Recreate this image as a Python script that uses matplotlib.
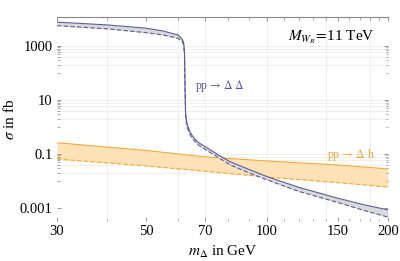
import matplotlib
matplotlib.use("Agg")
import matplotlib.pyplot as plt
import numpy as np

plt.rcParams['font.family'] = ['Liberation Serif', 'DejaVu Serif']
plt.rcParams['mathtext.fontset'] = 'stix'

# pp -> Delta Delta band (fb)
m_dd = [30, 40, 50, 55, 60, 61.5, 62.0, 62.3, 62.5, 62.7, 63.2, 64.3, 65.5, 67.3, 70, 75, 80.8, 90, 100, 120, 150, 175, 200]
dd_up = [7600, 6000, 4550, 3600, 2560, 1770, 1300, 600, 30, 3.0, 1.3, 0.65, 0.42, 0.27, 0.19, 0.10, 0.052, 0.027, 0.0145, 0.0058, 0.0023, 0.0013, 0.00085]
dd_lo = [5640, 4300, 3100, 2560, 1920, 1440, 1050, 450, 20, 2.2, 1.0, 0.52, 0.34, 0.22, 0.15, 0.080, 0.040, 0.020, 0.011, 0.0041, 0.0016, 0.0008, 0.00046]

# pp -> Delta h band (fb)
m_dh = [30, 50, 70, 100, 150, 200]
dh_up = [0.26, 0.135, 0.078, 0.055, 0.039, 0.028]
dh_lo = [0.065, 0.036, 0.023, 0.014, 0.0087, 0.006]

xticks = [30, 50, 70, 100, 150, 200]
xtick_labels = ["30", "50", "70", "100", "150", "200"]
yticks = [1e3, 1e1, 1e-1, 1e-3]
ytick_labels = ["1000", "10", "0.1", "0.001"]

fig = plt.figure(figsize=(4.0, 2.61), dpi=100)
ax = fig.add_axes([0.1425, 0.1533, 0.8275, 0.7816])
ax.set_xscale('log')
ax.set_yscale('log')
ax.set_xlim(30, 200)
ax.set_ylim(3.3e-4, 1.18e4)

dd_col = '#5b5b99'
or_col = '#f5a733'

# grid
minor_y = []
for k in [3, 1, -1]:
    for mm in range(1, 10):
        minor_y.append(mm * 10.0 ** (k - 1))
for v in [200, 400, 600, 800, 1000, 2, 4, 6, 8, 10, 0.02, 0.04, 0.06, 0.08, 0.1]:
    ax.axhline(v, color='#ededed', lw=0.6, zorder=0)
for v in [40, 60, 70, 100, 140, 180]:
    ax.axvline(v, color='#ededed', lw=0.6, zorder=0)

ax.fill_between(m_dh, dh_lo, dh_up, color='#fde2b8', lw=0, zorder=1)
ax.plot(m_dh, dh_up, color=or_col, lw=0.8, zorder=2)
ax.plot(m_dh, dh_lo, color=or_col, lw=0.8, ls=(0, (4, 2)), zorder=2)

ax.fill_between(m_dd, dd_lo, dd_up, color='#d9d9d9', lw=0, zorder=3)
ax.plot(m_dd, dd_up, color=dd_col, lw=0.8, zorder=4)
ax.plot(m_dd, dd_lo, color=dd_col, lw=0.8, ls=(0, (4, 2)), zorder=4)

ax.set_xticks(xticks)
ax.set_xticklabels(xtick_labels)
ax.set_xticks([40, 60, 80, 90, 110, 120, 130, 140, 160, 170, 180, 190], minor=True)
ax.xaxis.set_minor_formatter(matplotlib.ticker.NullFormatter())
ax.set_yticks(yticks)
ax.set_yticklabels(ytick_labels)
ax.set_yticks([v for v in minor_y if v not in yticks], minor=True)
ax.yaxis.set_minor_formatter(matplotlib.ticker.NullFormatter())

ax.tick_params(which='both', direction='in', top=True, right=True, color='#888888',
               labelsize=10.5, pad=3)
ax.tick_params(which='major', length=3, width=0.6)
ax.tick_params(which='minor', length=1.8, width=0.5)

for s in ['left', 'right', 'bottom']:
    ax.spines[s].set_visible(False)
ax.spines['top'].set_color('#888888')
ax.spines['top'].set_linewidth(0.8)

ax.set_xlabel(r'$m_\Delta$ in GeV', fontsize=11, labelpad=4)
ax.set_ylabel(r'$\sigma$ in fb', fontsize=11, labelpad=2)

ax.text(0.96, 0.9, r'$M_{W_R}\!=\!$11 TeV', transform=ax.transAxes, ha='right', va='center',
        fontsize=11)
ax.text(66.0, 33, r'pp$\,\rightarrow\,\Delta\;\Delta$', color=dd_col, fontsize=8.5, ha='left', va='center')
ax.text(141.0, 0.095, r'pp$\,\rightarrow\,\Delta$ h', color=or_col, fontsize=8.5, ha='left', va='center')

fig.savefig('out.png', dpi=100)
